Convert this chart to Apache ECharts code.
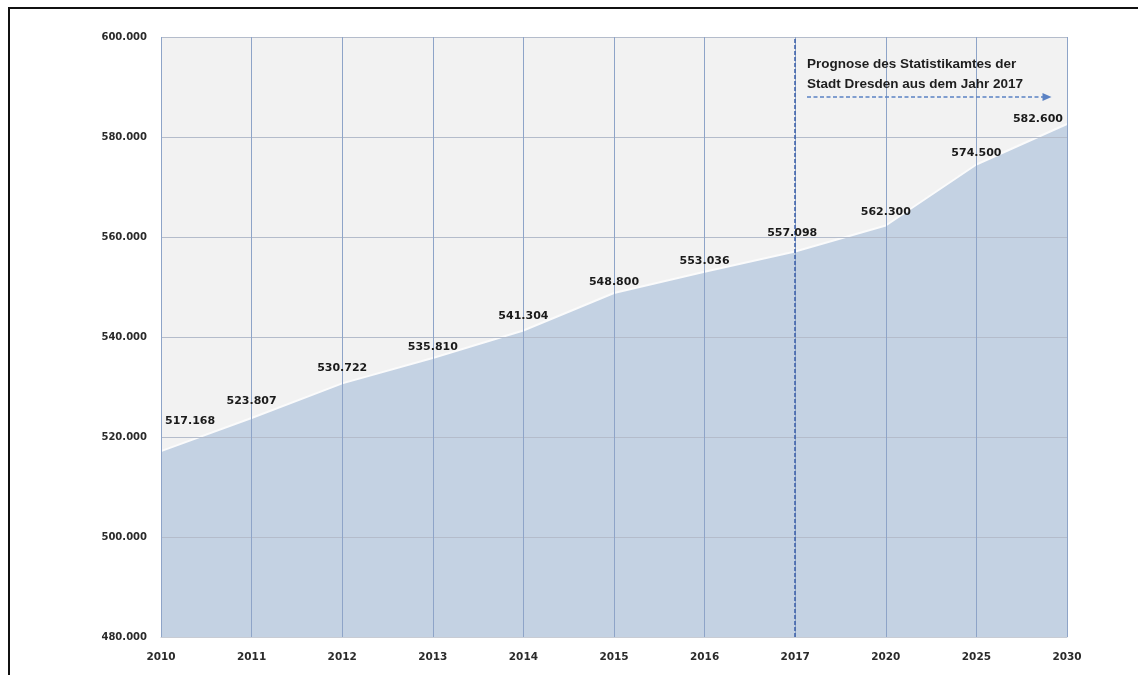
<!DOCTYPE html>
<html>
<head>
<meta charset="utf-8">
<script src="https://cdn.jsdelivr.net/npm/echarts@6/dist/echarts.min.js"></script>
<style>
html,body{margin:0;padding:0;background:#fff;overflow:hidden;}
#frame{position:absolute;left:8px;top:7px;width:1200px;height:720px;border-top:2px solid #111;border-left:2px solid #111;box-sizing:border-box;pointer-events:none;z-index:5;}
#chart{position:absolute;left:0;top:0;width:1138px;height:675px;}
</style>
</head>
<body>
<div id="chart"></div>
<div id="frame"></div>
<script>
const categories = ['2010','2011','2012','2013','2014','2015','2016','2017','2020','2025','2030'];
const population = [517168, 523807, 530722, 535810, 541304, 548800, 553036, 557098, 562300, 574500, 582600];
const yTicks = {min: 480000, max: 600000, interval: 20000};
const forecastStart = '2017';
const noteLines = ['Prognose des Statistikamtes der', 'Stadt Dresden aus dem Jahr 2017'];

function fmt(v){
  const s = String(Math.round(v));
  return s.replace(/\B(?=(\d{3})+(?!\d))/g, '.');
}

const chart = echarts.init(document.getElementById('chart'), null, {renderer:'canvas'});

const n = population.length;
const labelData = population.map((v, i) => {
  const d = {value: v};
  if (i === 0) d.label = {align: 'left'};
  if (i === n - 1) d.label = {align: 'right'};
  return d;
});
// manual nudges of individual value labels (as in the original spreadsheet chart)
function nudge(i){
  switch(i){
    case 0: return {dx: 4, dy: -19};
    case 1: return {dx: 0, dy: -6};
    case 2: return {dx: 0, dy: -4};
    case 4: return {dx: 0, dy: -3};
    case 7: return {dx: -3, dy: -7};
    case 8: return {dx: 0, dy: -2};
    case n - 1: return {dx: -4, dy: 6};
    default: return {dx: 0, dy: 0};
  }
}

chart.setOption({
  animation: false,
  grid: {left: 161, right: 71, top: 37, bottom: 38, show: true, backgroundColor: '#f2f2f2', borderWidth: 0},
  xAxis: {
    type: 'category',
    data: categories,
    boundaryGap: false,
    z: 4,
    axisLine: {show: true, lineStyle: {color: '#c8ccd4', width: 1}},
    axisTick: {show: false},
    axisLabel: {color: '#2a2a2a', fontFamily: 'DejaVu Sans', fontWeight: 'bold', fontSize: 10.5, margin: 15},
    splitLine: {show: true, lineStyle: {color: '#8ea4c8', width: 1}}
  },
  yAxis: {
    type: 'value',
    min: yTicks.min, max: yTicks.max, interval: yTicks.interval,
    z: 4,
    axisLine: {show: false},
    axisTick: {show: false},
    axisLabel: {color: '#2a2a2a', fontFamily: 'DejaVu Sans', fontWeight: 'bold', fontSize: 10, margin: 14, formatter: fmt},
    splitLine: {show: true, lineStyle: {color: '#b4bccb', width: 1}}
  },
  series: [{
    type: 'line',
    data: population,
    symbol: 'none',
    smooth: false,
    lineStyle: {color: '#fbfbfb', width: 2},
    areaStyle: {color: '#c4d2e3', opacity: 1},
    z: 2,
    markLine: {
      silent: true,
      symbol: 'none',
      z: 5,
      label: {show: false},
      lineStyle: {color: '#3a5ea8', type: [4, 2], width: 1.5},
      data: [{xAxis: forecastStart}]
    }
  }, {
    type: 'scatter',
    data: labelData,
    symbolSize: 1,
    itemStyle: {color: 'rgba(0,0,0,0)', opacity: 1},
    z: 10,
    silent: true,
    label: {
      show: true,
      position: 'top',
      distance: 5,
      opacity: 1,
      color: '#1a1a1a',
      fontFamily: 'DejaVu Sans',
      fontWeight: 'bold',
      fontSize: 11,
      formatter: p => fmt(p.value)
    },
    labelLayout: p => nudge(p.dataIndex)
  }, {
    type: 'line',
    data: [],
    markLine: {
      silent: true,
      symbol: ['none', 'triangle'],
      symbolSize: [8, 9],
      label: {show: false},
      lineStyle: {color: '#5b82c4', type: [4, 2.5], width: 1.5},
      data: [[{x: 807, y: 97}, {x: 1047, y: 97}]]
    }
  }],
  graphic: [{
    type: 'text',
    left: 807,
    top: 54,
    z: 10,
    style: {
      text: noteLines.join('\n'),
      fill: '#1e1e1e',
      font: 'bold 13.5px "Liberation Sans", Arial, sans-serif',
      lineHeight: 20
    }
  }]
});
</script>
</body>
</html>
